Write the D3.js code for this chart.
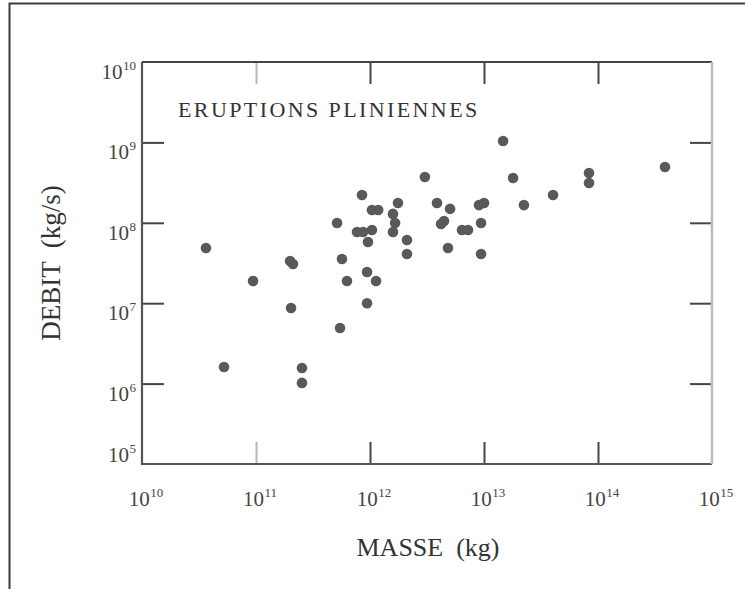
<!DOCTYPE html>
<html>
<head>
<meta charset="utf-8">
<script src="https://cdn.jsdelivr.net/npm/d3@7"></script>
<style>
  html, body { margin: 0; padding: 0; background: #fff; }
  svg { display: block; }
  text { font-family: "Liberation Serif", "DejaVu Serif", serif; fill: #333; }
</style>
</head>
<body>
<svg id="chart" width="745" height="589"></svg>
<script>
// ---- data ----
const title = "ERUPTIONS PLINIENNES";
const xLabel = "MASSE  (kg)";
const yLabel = "DEBIT  (kg/s)";
const xTickExponents = [10, 11, 12, 13, 14, 15];
const yTickExponents = [5, 6, 7, 8, 9, 10];

// Mass (kg) of each Plinian eruption
const masse = [
  3.64e10, 5.24e10, 9.42e10, 1.99e11, 2.11e11, 2.03e11, 2.53e11, 2.53e11,
  5.14e11, 5.68e11, 6.28e11, 5.46e11, 8.51e11, 1.04e12, 1.18e12, 7.69e11,
  8.69e11, 1.04e12, 9.60e11, 9.42e11, 1.13e12, 9.42e11, 1.76e12, 1.59e12,
  1.66e12, 1.59e12, 2.11e12, 2.11e12, 3.03e12, 3.87e12, 4.20e12, 4.46e12,
  5.04e12, 4.83e12, 6.41e12, 7.24e12, 9.04e12, 1.00e13, 9.42e12, 9.42e12,
  1.47e13, 1.80e13, 2.24e13, 4.03e13, 8.34e13, 8.34e13, 3.87e14
];
// Mass eruption rate (kg/s)
const debit = [
  4.86e7, 1.61e6, 1.89e7, 3.35e7, 3.07e7, 8.7e6, 1.56e6, 1.02e6,
  9.95e7, 3.55e7, 1.89e7, 4.92e6, 2.22e8, 1.44e8, 1.44e8, 7.69e7,
  7.69e7, 8.13e7, 5.77e7, 2.44e7, 1.89e7, 1.0e7, 1.76e8, 1.29e8,
  9.95e7, 7.69e7, 6.11e7, 4.09e7, 3.71e8, 1.76e8, 9.66e7, 1.05e8,
  1.49e8, 4.86e7, 8.13e7, 8.13e7, 1.66e8, 1.76e8, 9.95e7, 4.09e7,
  1.04e9, 3.61e8, 1.66e8, 2.22e8, 4.16e8, 3.13e8, 4.94e8
];

// ---- layout ----
const W = 745, H = 589;
const plot = { left: 142, right: 712, top: 62, bottom: 464 };
const tickLen = 22;
const axisColor = "#454545";

const svg = d3.select("#chart");

// frame (only top and left edges visible in the reference)
svg.append("path")
  .attr("d", `M9.5,${H} L9.5,3.5 L${W},3.5`)
  .attr("fill", "none").attr("stroke", "#3a3a3a").attr("stroke-width", 2);

const x = d3.scaleLog().domain([1e10, 1e15]).range([plot.left, plot.right]);
const y = d3.scaleLog().domain([1e5, 1e10]).range([plot.bottom, plot.top]);

const xTicks = xTickExponents.map(e => Math.pow(10, e));
const yTicks = yTickExponents.map(e => Math.pow(10, e));

function styleAxis(g, color) {
  g.select(".domain").remove();
  g.selectAll(".tick line").attr("stroke", color || axisColor).attr("stroke-width", 2);
  g.selectAll(".tick text").remove();
}

const innerX = xTicks.slice(1, -1);
const innerY = yTicks.slice(1, -1);

svg.append("g").attr("transform", `translate(0,${plot.bottom})`)
  .call(d3.axisBottom(x).tickValues(innerX).tickSize(-tickLen).tickFormat(""))
  .call(g => styleAxis(g));
svg.append("g").attr("transform", `translate(0,${plot.top})`)
  .call(d3.axisTop(x).tickValues(innerX).tickSize(-tickLen).tickFormat(""))
  .call(g => styleAxis(g));
svg.append("g").attr("transform", `translate(${plot.left},0)`)
  .call(d3.axisLeft(y).tickValues(innerY).tickSize(-tickLen).tickFormat(""))
  .call(g => styleAxis(g));
svg.append("g").attr("transform", `translate(${plot.right},0)`)
  .call(d3.axisRight(y).tickValues(innerY).tickSize(-tickLen).tickFormat(""))
  .call(g => styleAxis(g));

// the 10^11 ticks are lighter in the scan
svg.selectAll(".tick").filter(d => d === 1e11).select("line").attr("stroke", "#b5b5b5");

// box
svg.append("path")
  .attr("d", `M${plot.left},${plot.top} H${plot.right}`)
  .attr("stroke", axisColor).attr("stroke-width", 2.2).attr("fill", "none");
svg.append("path")
  .attr("d", `M${plot.left},${plot.top} V${plot.bottom} H${plot.right}`)
  .attr("stroke", "#555").attr("stroke-width", 2.2).attr("fill", "none");
svg.append("path")
  .attr("d", `M${plot.right},${plot.top} V${plot.bottom}`)
  .attr("stroke", "#bdbdbd").attr("stroke-width", 2.6).attr("fill", "none");

// tick labels: 10 with superscript exponent
function powLabel(g, e) {
  const t = g.append("text").style("font-size", "21px").style("fill", "#444");
  t.append("tspan").text("10");
  t.append("tspan").attr("dy", -9).attr("dx", 0.5).style("font-size", "13px").text(e);
  return t;
}

xTickExponents.forEach(e => {
  const g = svg.append("g").attr("transform", `translate(${x(Math.pow(10, e)) + 4},506)`);
  powLabel(g, e).attr("text-anchor", "middle");
});

yTickExponents.forEach((e, i) => {
  const off = i === 0 ? -2 : 17;
  const g = svg.append("g").attr("transform", `translate(136,${y(Math.pow(10, e)) + off})`);
  powLabel(g, e).attr("text-anchor", "end");
});

// points
svg.append("g").selectAll("circle")
  .data(masse.map((m, i) => [m, debit[i]]))
  .join("circle")
  .attr("cx", d => x(d[0]))
  .attr("cy", d => y(d[1]))
  .attr("r", 5.3)
  .attr("fill", "#595959");

// title inside plot
svg.append("text")
  .attr("x", 178).attr("y", 117)
  .style("font-size", "22px")
  .style("letter-spacing", "2.4px")
  .text(title);

// axis titles
svg.append("text")
  .attr("x", 428).attr("y", 556)
  .attr("text-anchor", "middle")
  .style("font-size", "26px")
  .style("white-space", "pre")
  .text(xLabel);

svg.append("text")
  .attr("transform", "translate(60,263) rotate(-90)")
  .attr("text-anchor", "middle")
  .style("font-size", "27px")
  .style("white-space", "pre")
  .text(yLabel);
</script>
</body>
</html>
